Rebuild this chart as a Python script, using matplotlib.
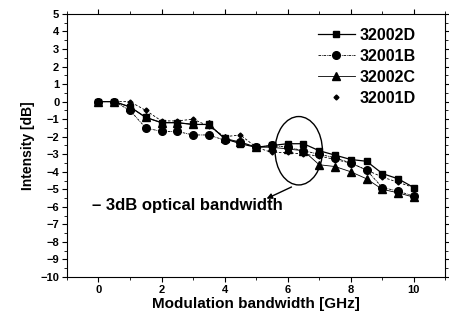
import matplotlib
matplotlib.use("Agg")
import matplotlib.pyplot as plt
from matplotlib.patches import Ellipse

plt.rcParams['font.family'] = ['Liberation Sans', 'DejaVu Sans']
plt.rcParams['font.weight'] = 'bold'

freq = [0, 0.5, 1, 1.5, 2, 2.5, 3, 3.5, 4, 4.5, 5, 5.5, 6, 6.5, 7, 7.5, 8, 8.5, 9, 9.5, 10]
s_32002D = [0, 0, -0.3, -0.9, -1.2, -1.2, -1.3, -1.3, -2.1, -2.4, -2.6, -2.5, -2.4, -2.4, -2.8, -3.05, -3.3, -3.4, -4.1, -4.4, -4.9]
s_32001B = [0, 0, -0.5, -1.5, -1.7, -1.7, -1.9, -1.9, -2.2, -2.3, -2.6, -2.5, -2.6, -2.8, -3.0, -3.2, -3.5, -3.9, -4.9, -5.1, -5.4]
s_32002C = [0, 0, -0.3, -0.9, -1.2, -1.2, -1.3, -1.3, -2.1, -2.3, -2.6, -2.6, -2.7, -2.8, -3.6, -3.7, -4.0, -4.4, -5.0, -5.2, -5.45]
s_32001D = [0, 0, 0, -0.5, -1.1, -1.1, -1.0, -1.4, -2.0, -1.9, -2.6, -2.9, -2.9, -3.0, -3.1, -3.3, -3.5, -3.9, -4.3, -4.6, -4.9]

fig = plt.figure(figsize=(4.49, 3.24), dpi=100)
ax = fig.add_axes([0.149, 0.145, 0.843, 0.812])

ax.plot(freq, s_32002D, '-', color='k', marker='s', markersize=5, linewidth=0.9, label='32002D')
ax.plot(freq, s_32001B, linestyle=(0, (3, 1, 1, 1)), color='k', marker='o', markersize=5.5, linewidth=0.6, label='32001B')
ax.plot(freq, s_32002C, '-', color='k', marker='^', markersize=5.5, linewidth=0.6, label='32002C')
ax.plot(freq, s_32001D, linestyle=(0, (3, 2)), color='k', marker='D', markersize=2.5, linewidth=0.6)
ax.plot([], [], linestyle='none', color='k', marker='D', markersize=2.5, label='32001D')

ax.add_patch(Ellipse((6.35, -2.8), 1.5, 3.9, fill=False, edgecolor='k', linewidth=1.0))
ax.annotate('', xy=(5.25, -5.6), xytext=(6.2, -4.8),
            arrowprops=dict(arrowstyle='-|>', color='k', linewidth=1.0, mutation_scale=8))
ax.text(-0.2, -5.9, '\u2013 3dB optical bandwidth', fontsize=12, fontweight='bold', va='center')

ax.set_xlim(-1, 11)
ax.set_ylim(-10, 5)
ax.set_xticks([0, 2, 4, 6, 8, 10])
ax.set_xticks(range(-1, 12), minor=True)
ax.set_yticks(range(-10, 6))
ax.set_yticks([v / 2 for v in range(-20, 11)], minor=True)
ax.tick_params(which='both', direction='out', top=True, right=True, labelsize=8, pad=2)
ax.tick_params(which='major', length=3.5)
ax.tick_params(which='minor', length=2)
ax.set_xlabel('Modulation bandwidth [GHz]', fontsize=11, fontweight='bold', labelpad=2)
ax.set_ylabel('Intensity [dB]', fontsize=10, fontweight='bold')

leg = ax.legend(loc='upper left', bbox_to_anchor=(0.663, 0.948), frameon=False, fontsize=11.5,
                handlelength=2.3, handletextpad=0.3, labelspacing=0.38,
                borderaxespad=0, borderpad=0)

fig.savefig('out.png', dpi=100)
